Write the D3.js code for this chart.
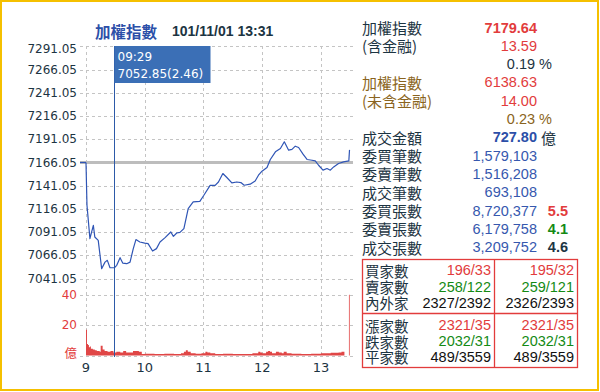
<!DOCTYPE html>
<html><head><meta charset="utf-8">
<script src="https://cdn.jsdelivr.net/npm/d3@7"></script>
<style>
html,body{margin:0;padding:0;background:#fff;}
svg{display:block;}
</style></head>
<body>
<svg id="c" width="600" height="392"></svg>
<script>
// ---------- data ----------
const titleText = "加權指數";
const dateText = "101/11/01 13:31";
const prevClose = 7166.05;
const yTickValues = [7291.05, 7266.05, 7241.05, 7216.05, 7191.05, 7166.05, 7141.05, 7116.05, 7091.05, 7066.05, 7041.05];
const xTickMinutes = [0, 60, 120, 180, 240];
const xTickLabels = ["9", "10", "11", "12", "13"];
const volTickValues = [40, 20];
const volUnitLabel = "億";

const priceMinutes = [0, 1, 4, 7.5, 9, 12.5, 16, 19.4, 21.8, 24.5, 29, 31.4, 34.8, 37.5, 41.6, 45, 48.3, 51, 55, 60, 63.4, 68, 72, 75.6, 80.8, 86.6, 89.3, 92.7, 96, 100, 104.4, 109.5, 116.3, 120.4, 126.8, 131.9, 135.3, 139.8, 143.9, 149, 154, 158.2, 161.6, 167.7, 172.8, 176.2, 179.8, 184.9, 188.3, 193.5, 198.6, 202.6, 207, 210.4, 213.8, 217.2, 221.7, 225.8, 230.9, 234.2, 237.6, 242.1, 246.2, 249.6, 253, 258, 263.1, 268.5, 269.2];
const priceValues = [7166.05, 7120.0, 7084.2, 7098.5, 7085.9, 7082.3, 7051.8, 7058.9, 7060.8, 7052.9, 7052.85, 7055.4, 7063.7, 7057.9, 7057.2, 7058.9, 7073.4, 7083.1, 7080.5, 7079.4, 7078.8, 7070.8, 7073.4, 7080.5, 7085.2, 7091.3, 7086.6, 7090.2, 7090.9, 7094.9, 7116.5, 7123.6, 7124.3, 7130.8, 7141.5, 7141.5, 7145.1, 7154.2, 7149.9, 7144.1, 7145.1, 7144.5, 7141.6, 7142.7, 7146.2, 7152.4, 7156.7, 7160.7, 7169.3, 7177.5, 7181.1, 7188.3, 7179.3, 7180.1, 7183.6, 7182.2, 7175.0, 7169.3, 7168.5, 7167.8, 7163.1, 7157.8, 7159.6, 7157.8, 7161.3, 7165.0, 7166.7, 7167.8, 7179.64];

const volMinutes = [0, 1, 2, 3, 4, 5, 7, 9, 11, 14, 15, 17, 19, 22, 25, 28, 31, 35, 38, 41, 45, 48, 50, 54, 57, 60, 70, 80, 90, 97, 100, 102, 104, 107, 112, 118, 122, 124, 127, 132, 140, 150, 160, 170, 176, 178, 180, 184, 186, 188, 190, 194, 197, 200, 202, 205, 210, 220, 230, 240, 250, 258, 261, 263, 264, 268.6, 269.4];
const volValues  = [17, 7.5, 7, 5.5, 6, 4.5, 4, 3.5, 3, 2.5, 6.5, 4, 3, 2.5, 3, 2, 2.5, 2, 3, 2, 2, 3, 3, 2.5, 1, 1.2, 1, 1.2, 1, 1.5, 2.5, 3.5, 2.5, 1.5, 1.2, 1.5, 2.5, 2, 1.5, 1, 1.2, 1, 1, 1.5, 2.5, 2, 1.5, 2.5, 3, 2.5, 1.5, 2.5, 2, 1.5, 2.5, 1.5, 1.2, 1, 1.2, 1.5, 1.8, 2, 2.5, 2.5, 0, 40, 0];

const tipTime = "09:29";
const tipMinute = 28.4;
const tipText = "7052.85(2.46)";

// right panel
const panelLabels = ["加權指數", "(含金融)", "", "加權指數", "(未含金融)", "", "成交金額", "委買筆數", "委賣筆數", "成交筆數", "委買張數", "委賣張數", "成交張數"];
const panelValues = ["7179.64", "13.59", "", "6138.63", "14.00", "", "727.80", "1,579,103", "1,516,208", "693,108", "8,720,377", "6,179,758", "3,209,752"];
const panelPercents = ["", "", "0.19 %", "", "", "0.23 %", "", "", "", "", "", "", ""];
const panelRatios = ["", "", "", "", "", "", "", "", "", "", "5.5", "4.1", "4.6"];
const amountUnit = "億";

const tableLabels = ["買家數", "賣家數", "內外家", "漲家數", "跌家數", "平家數"];
const tableCol1 = ["196/33", "258/122", "2327/2392", "2321/35", "2032/31", "489/3559"];
const tableCol2 = ["195/32", "259/121", "2326/2393", "2321/35", "2032/31", "489/3559"];

// ---------- drawing ----------
const svg = d3.select("#c");
const RED = "#e23c3c", GREEN = "#148a14", DARK = "#1c3442", BLUE = "#2c4fa8", BROWN = "#8a6420", VALBLUE = "#3658ae";
const sansCJK = "'Noto Sans CJK TC','Noto Sans CJK SC',sans-serif";
const arial = "'Liberation Sans',Arial,'Noto Sans CJK TC',sans-serif";
const verd = "'DejaVu Sans',Verdana,sans-serif";

// frame
svg.append("rect").attr("x", 1).attr("y", 1).attr("width", 597).attr("height", 389)
  .attr("fill", "#fff").attr("stroke", "#f5c000").attr("stroke-width", 2);

// title
svg.append("text").attr("x", 95).attr("y", 31).attr("dominant-baseline", "central")
  .attr("font-family", sansCJK).attr("font-weight", "bold").attr("font-size", 15.5)
  .attr("fill", BLUE).text(titleText);
svg.append("text").attr("x", 172).attr("y", 31).attr("dominant-baseline", "central")
  .attr("font-family", arial).attr("font-weight", "bold").attr("font-size", 14)
  .attr("fill", DARK).text(dateText);

const x = d3.scaleLinear().domain([0, 270]).range([86, 350.3]);
const y = d3.scaleLinear().domain([7041.05, 7291.05]).range([278.7, 46.3]);
const yv = d3.scaleLinear().domain([0, 40]).range([355.5, 294.8]);

const gridColor = "#c4c4c4";
svg.append("g").selectAll("line").data(yTickValues).join("line")
  .attr("x1", 80).attr("x2", 353).attr("y1", d => Math.round(y(d)) + 0.5).attr("y2", d => Math.round(y(d)) + 0.5)
  .attr("stroke", gridColor).attr("stroke-dasharray", "3,3");
svg.append("g").selectAll("line").data([40, 20, 0]).join("line")
  .attr("x1", 80).attr("x2", 353).attr("y1", d => Math.round(yv(d)) + 0.5).attr("y2", d => Math.round(yv(d)) + 0.5)
  .attr("stroke", gridColor).attr("stroke-dasharray", "3,3");
svg.append("g").selectAll("line").data(xTickMinutes).join("line")
  .attr("x1", d => Math.round(x(d)) + 0.5).attr("x2", d => Math.round(x(d)) + 0.5)
  .attr("y1", 46).attr("y2", 358)
  .attr("stroke", gridColor).attr("stroke-dasharray", "3,3");

svg.append("g").selectAll("text").data(yTickValues).join("text")
  .attr("x", 77).attr("y", (d, i) => i === 0 ? y(d) + 3 : y(d)).attr("text-anchor", "end").attr("dominant-baseline", "central")
  .attr("font-family", verd).attr("font-size", 12).attr("fill", DARK).text(d => d.toFixed(2));
svg.append("g").selectAll("text").data(volTickValues).join("text")
  .attr("x", 77).attr("y", d => yv(d)).attr("text-anchor", "end").attr("dominant-baseline", "central")
  .attr("font-family", verd).attr("font-size", 12).attr("fill", RED).text(d => d);
svg.append("text").attr("x", 77).attr("y", yv(0) - 3).attr("text-anchor", "end").attr("dominant-baseline", "central")
  .attr("font-family", sansCJK).attr("font-size", 12.5).attr("fill", RED).text(volUnitLabel);
svg.append("g").selectAll("text").data(xTickMinutes).join("text")
  .attr("x", d => x(d)).attr("y", 367).attr("text-anchor", "middle").attr("dominant-baseline", "central")
  .attr("font-family", verd).attr("font-size", 13).attr("fill", DARK).text((d, i) => xTickLabels[i]);

svg.append("line").attr("x1", 80).attr("x2", 353).attr("y1", y(prevClose)).attr("y2", y(prevClose))
  .attr("stroke", "#bdbdbd").attr("stroke-width", 3);
svg.append("line").attr("x1", 80).attr("x2", 86).attr("y1", y(prevClose)).attr("y2", y(prevClose))
  .attr("stroke", "#2f55b5").attr("stroke-width", 1.2);

const volData = volMinutes.map((m, i) => ({ m, v: volValues[i] }));
volData.push({ m: 270, v: 0 });
svg.append("path").datum(volData)
  .attr("d", d3.area().curve(d3.curveStepAfter).x(d => x(d.m)).y0(yv(0)).y1(d => yv(d.v)))
  .attr("fill", "#e04646");

const priceData = priceMinutes.map((m, i) => ({ m, v: priceValues[i] }));
svg.append("path").datum(priceData)
  .attr("d", d3.line().x(d => x(d.m)).y(d => y(d.v)))
  .attr("fill", "none").attr("stroke", "#2f55b5").attr("stroke-width", 1.2).attr("stroke-linejoin", "round");

const tx = Math.round(x(tipMinute)) + 0.5;
svg.append("line").attr("x1", tx).attr("x2", tx).attr("y1", 46).attr("y2", 357)
  .attr("stroke", "#2d5aa8").attr("stroke-width", 1);
svg.append("rect").attr("x", tx).attr("y", 46).attr("width", 96).attr("height", 37).attr("fill", "#3b6fb6");
svg.append("text").attr("x", tx + 3).attr("y", 57).attr("dominant-baseline", "central")
  .attr("font-family", verd).attr("font-size", 12).attr("fill", "#fff").text(tipTime);
svg.append("text").attr("x", tx + 3).attr("y", 74).attr("dominant-baseline", "central")
  .attr("font-family", verd).attr("font-size", 12).attr("fill", "#fff").text(tipText);

// ---------- right panel ----------
const rowY = i => 27.5 + i * 18.3;
const labelColors = [DARK, DARK, DARK, BROWN, BROWN, BROWN, DARK, DARK, DARK, DARK, DARK, DARK, DARK];
const valueColors = [RED, RED, RED, RED, RED, BROWN, BLUE, VALBLUE, VALBLUE, VALBLUE, VALBLUE, VALBLUE, VALBLUE];
const valueBold = [true, false, false, false, false, false, true, false, false, false, false, false, false];
const ratioColors = ["", "", "", "", "", "", "", "", "", "", RED, GREEN, DARK];
const percentColors = ["", "", DARK, "", "", BROWN];

const panel = svg.append("g");
panel.selectAll("text.lab").data(panelLabels).join("text").attr("class", "lab")
  .attr("x", 362).attr("y", (d, i) => rowY(i)).attr("dominant-baseline", "central")
  .attr("font-family", sansCJK).attr("font-size", 15).attr("fill", (d, i) => labelColors[i]).text(d => d);
panel.selectAll("text.val").data(panelValues).join("text").attr("class", "val")
  .attr("x", 537).attr("y", (d, i) => rowY(i)).attr("text-anchor", "end").attr("dominant-baseline", "central")
  .attr("font-family", arial).attr("font-size", 14.5).attr("font-weight", (d, i) => valueBold[i] ? "bold" : "normal")
  .attr("fill", (d, i) => valueColors[i]).text(d => d);
panel.selectAll("text.pct").data(panelPercents).join("text").attr("class", "pct")
  .attr("x", 552).attr("y", (d, i) => rowY(i)).attr("text-anchor", "end").attr("dominant-baseline", "central")
  .attr("font-family", arial).attr("font-size", 14.5)
  .attr("fill", (d, i) => percentColors[i] || DARK).text(d => d);
panel.selectAll("text.rat").data(panelRatios).join("text").attr("class", "rat")
  .attr("x", 568).attr("y", (d, i) => rowY(i)).attr("text-anchor", "end").attr("dominant-baseline", "central")
  .attr("font-family", arial).attr("font-size", 14.5).attr("font-weight", "bold")
  .attr("fill", (d, i) => ratioColors[i] || DARK).text(d => d);
panel.append("text").attr("x", 541).attr("y", rowY(6)).attr("dominant-baseline", "central")
  .attr("font-family", sansCJK).attr("font-size", 15).attr("fill", DARK).text(amountUnit);

// table
const tb = svg.append("g");
tb.append("rect").attr("x", 362.5).attr("y", 259.5).attr("width", 215).attr("height", 108)
  .attr("fill", "none").attr("stroke", RED).attr("stroke-width", 1.3);
tb.append("line").attr("x1", 494.5).attr("x2", 494.5).attr("y1", 259.5).attr("y2", 367.5).attr("stroke", RED).attr("stroke-width", 1.3);
tb.append("line").attr("x1", 362.5).attr("x2", 577.5).attr("y1", 313.5).attr("y2", 313.5).attr("stroke", RED).attr("stroke-width", 1.3);
const tRowY = [270, 286.5, 302.5, 325, 341, 356.7];
const tColors = [RED, GREEN, "#111", RED, GREEN, "#111"];
tb.selectAll("text.tl").data(tableLabels).join("text").attr("class", "tl")
  .attr("x", 365).attr("y", (d, i) => tRowY[i]).attr("dominant-baseline", "central")
  .attr("font-family", sansCJK).attr("font-size", 14.5).attr("fill", DARK).text(d => d);
tb.selectAll("text.c1").data(tableCol1).join("text").attr("class", "c1")
  .attr("x", 491).attr("y", (d, i) => tRowY[i]).attr("text-anchor", "end").attr("dominant-baseline", "central")
  .attr("font-family", arial).attr("font-size", 14.5).attr("fill", (d, i) => tColors[i]).text(d => d);
tb.selectAll("text.c2").data(tableCol2).join("text").attr("class", "c2")
  .attr("x", 574).attr("y", (d, i) => tRowY[i]).attr("text-anchor", "end").attr("dominant-baseline", "central")
  .attr("font-family", arial).attr("font-size", 14.5).attr("fill", (d, i) => tColors[i]).text(d => d);
</script>
</body></html>
